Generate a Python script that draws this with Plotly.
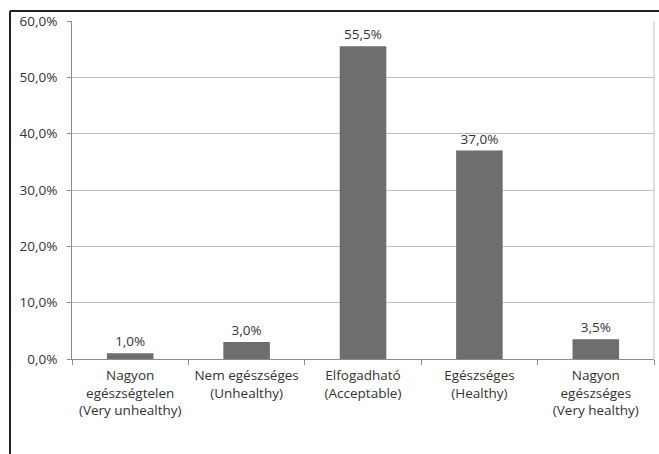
import plotly.graph_objects as go

# Self-rated health of respondents (share of answers, %)
categories = [
    "Nagyon<br>egészségtelen<br>(Very unhealthy)",
    "Nem egészséges<br>(Unhealthy)",
    "Elfogadható<br>(Acceptable)",
    "Egészséges<br>(Healthy)",
    "Nagyon<br>egészséges<br>(Very healthy)",
]
shares = [1.0, 3.0, 55.5, 37.0, 3.5]
y_ticks = [0, 10, 20, 30, 40, 50, 60]
y_tick_labels = ["0,0%", "10,0%", "20,0%", "30,0%", "40,0%", "50,0%", "60,0%"]

font_family = "Open Sans, Lato, sans-serif"
text_color = "#333333"
font_size = 13.5

fig = go.Figure(
    go.Bar(
        x=categories,
        y=shares,
        marker=dict(color="#6e6e6e", line=dict(width=0)),
        width=0.4,
        texttemplate="%{y:.1f}%",
        textposition="outside",
        textfont=dict(size=font_size, color=text_color, family=font_family),
        cliponaxis=False,
    )
)

fig.update_layout(
    width=659,
    height=454,
    margin=dict(l=72, r=5, t=21, b=95),
    paper_bgcolor="white",
    plot_bgcolor="white",
    separators=",.",
    showlegend=False,
    font=dict(family=font_family, size=font_size, color=text_color),
)

fig.update_yaxes(
    range=[0, 60],
    tickvals=y_ticks,
    ticktext=y_tick_labels,
    showgrid=True,
    gridcolor="#c0c0c0",
    gridwidth=1,
    showline=True,
    linecolor="#8c8c8c",
    linewidth=1,
    ticks="outside",
    ticklen=4,
    tickcolor="#8c8c8c",
    ticklabelstandoff=7,
    zeroline=False,
    tickfont=dict(size=font_size, color=text_color),
)

fig.update_xaxes(
    showline=True,
    linecolor="#8c8c8c",
    linewidth=1,
    ticks="outside",
    tickson="boundaries",
    ticklen=5,
    tickcolor="#8c8c8c",
    ticklabelstandoff=4,
    tickfont=dict(size=font_size, color=text_color),
)

# light frame on the right edge of the plotting area
fig.add_shape(type="line", xref="paper", yref="paper", x0=1, x1=1, y0=0, y1=1,
              line=dict(color="#c0c0c0", width=1))

# dark outer frame along the top and left of the chart
fig.add_shape(type="line", xref="paper", yref="paper",
              x0=-0.1065, x1=1.02, y0=1.0296, y1=1.0296,
              line=dict(color="#222222", width=2))
fig.add_shape(type="line", xref="paper", yref="paper",
              x0=-0.1065, x1=-0.1065, y0=1.0296, y1=-0.3,
              line=dict(color="#222222", width=2))

fig.write_html("out.html")
